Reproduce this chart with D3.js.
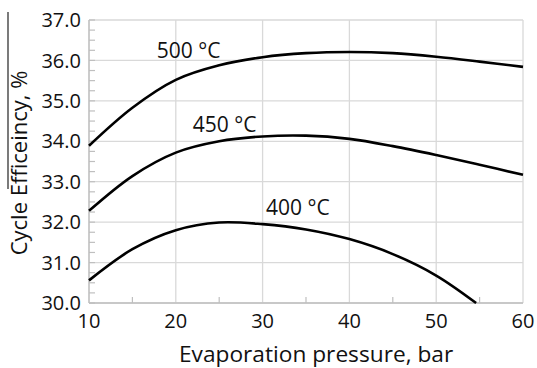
<!DOCTYPE html>
<html><head><meta charset="utf-8">
<script src="https://cdn.jsdelivr.net/npm/d3@7"></script>
<style>body{margin:0;background:#fff}svg{display:block}text{font-family:"Open Sans",sans-serif;fill:#111}</style>
</head><body><svg id="c" width="537" height="368"></svg>
<script>
const pressure = [10, 15, 20, 25, 30, 35, 40, 45, 50, 55, 60];
const eff500 = [33.89, 34.83, 35.52, 35.88, 36.08, 36.18, 36.21, 36.18, 36.09, 35.97, 35.84];
const eff450 = [32.28, 33.14, 33.72, 34.00, 34.12, 34.14, 34.06, 33.88, 33.66, 33.42, 33.17];
const pressure400 = [10, 15, 20, 25, 30, 35, 40, 45, 50, 54.6];
const eff400 = [30.56, 31.33, 31.80, 31.99, 31.95, 31.82, 31.58, 31.21, 30.68, 30.0];
const xTicks = [10, 20, 30, 40, 50, 60];
const yTicks = [30, 31, 32, 33, 34, 35, 36, 37];
const labels = [{t:"500 °C", x:17.8, y:36.06}, {t:"450 °C", x:21.95, y:34.23}, {t:"400 °C", x:30.4, y:32.18}];

const svg = d3.select("#c");
const m = {l:89, r:523, t:20, b:303};
const x = d3.scaleLinear().domain([10,60]).range([m.l, m.r]);
const y = d3.scaleLinear().domain([30,37]).range([m.b, m.t]);

// grid
svg.append("g").selectAll("line").data(yTicks).join("line")
  .attr("x1", m.l).attr("x2", m.r).attr("y1", d=>y(d)).attr("y2", d=>y(d))
  .attr("stroke", "#d9d9d9").attr("stroke-width", 1.3);
svg.append("g").selectAll("line").data(xTicks).join("line")
  .attr("y1", m.t).attr("y2", m.b).attr("x1", d=>x(d)).attr("x2", d=>x(d))
  .attr("stroke", "#d9d9d9").attr("stroke-width", 1.3);

// minor ticks
const yMinor = d3.range(30, 37.001, 0.25);
svg.append("g").selectAll("line").data(yMinor).join("line")
  .attr("x1", m.l).attr("x2", m.l+6).attr("y1", d=>y(d)).attr("y2", d=>y(d))
  .attr("stroke", "#bfbfbf").attr("stroke-width", 1.2);
const xMinor = d3.range(15, 60, 10);
svg.append("g").selectAll("line").data(xMinor).join("line")
  .attr("y1", m.b).attr("y2", m.b-6).attr("x1", d=>x(d)).attr("x2", d=>x(d))
  .attr("stroke", "#bfbfbf").attr("stroke-width", 1.2);

// axes lines
svg.append("line").attr("x1", m.l).attr("x2", m.l).attr("y1", m.t).attr("y2", m.b).attr("stroke","#bfbfbf").attr("stroke-width",1.3);
svg.append("line").attr("x1", m.l).attr("x2", m.r).attr("y1", m.b).attr("y2", m.b).attr("stroke","#bfbfbf").attr("stroke-width",1.3);

// tick labels
svg.append("g").selectAll("text").data(yTicks).join("text")
  .attr("x", 81).attr("y", d=>y(d)).attr("dy","0.36em").attr("text-anchor","end")
  .attr("font-size", 20).text(d=>d.toFixed(1));
svg.append("g").selectAll("text").data(xTicks).join("text")
  .attr("x", d=>x(d)).attr("y", 328).attr("text-anchor","middle")
  .attr("font-size", 20).text(d=>d);

// axis titles
svg.append("text").attr("x", 179).attr("y", 362).attr("text-anchor","start")
  .attr("font-size", 22.7).text("Evaporation pressure, bar");
svg.append("text").attr("transform","translate(27,163) rotate(-90)").attr("text-anchor","middle")
  .attr("font-size", 22).text("Cycle Efficeincy, %");
svg.append("line").attr("x1",8).attr("x2",8).attr("y1",12).attr("y2",189).attr("stroke","#222").attr("stroke-width",1.2);

// curves
const line = d3.line().x(d=>x(d[0])).y(d=>y(d[1])).curve(d3.curveCatmullRom.alpha(0.5));
const series = [d3.zip(pressure, eff500), d3.zip(pressure, eff450), d3.zip(pressure400, eff400)];
svg.append("g").selectAll("path").data(series).join("path")
  .attr("d", line).attr("fill","none").attr("stroke","#000").attr("stroke-width",2.6);

svg.append("g").selectAll("text").data(labels).join("text")
  .attr("x", d=>x(d.x)).attr("y", d=>y(d.y)).attr("text-anchor","start")
  .attr("font-size", 21).text(d=>d.t);
</script></body></html>
